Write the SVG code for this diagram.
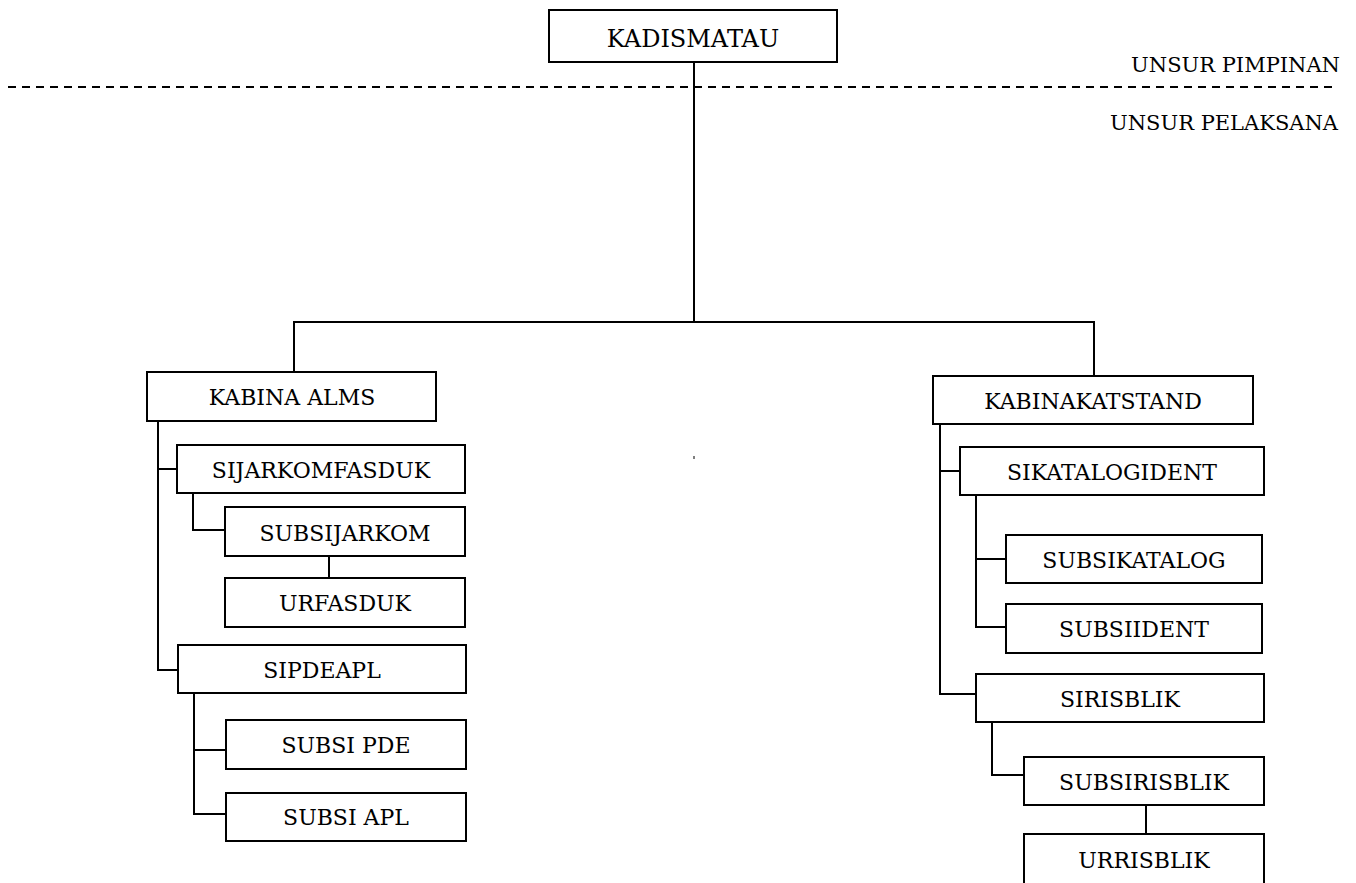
<svg xmlns="http://www.w3.org/2000/svg" width="1356" height="883" viewBox="0 0 1356 883">
<style>
.box{fill:#fff;stroke:#000;stroke-width:2}
.t{font-family:"DejaVu Serif","Liberation Serif",serif;font-size:22px;fill:#000;text-anchor:middle}
.big{font-size:24px}
.lbl{font-family:"DejaVu Serif","Liberation Serif",serif;font-size:21px;fill:#000;text-anchor:end}
.c{fill:none;stroke:#000;stroke-width:2}
.dash{fill:none;stroke:#000;stroke-width:2;stroke-dasharray:8 6}
</style>
<rect width="1356" height="883" fill="#fff"/>
<line class="dash" x1="8" y1="87" x2="1334" y2="87"/>
<text class="lbl" x="1340" y="72">UNSUR PIMPINAN</text>
<text class="lbl" x="1338" y="130">UNSUR PELAKSANA</text>
<g id="connectors">
<path class="c" d="M694 62V322M294 373V322H1094V376"/>
<path class="c" d="M158 421V670H178M158 469H177"/>
<path class="c" d="M193 493V530H225M329 556V578"/>
<path class="c" d="M194 693V814H226M194 750H226"/>
<path class="c" d="M940 424V694H976M940 471H960"/>
<path class="c" d="M976 495V627H1006M976 559H1006"/>
<path class="c" d="M992 722V775H1024M1146 805V834"/>
<rect x="693.5" y="456" width="1" height="3" fill="#000"/>
</g>
<g id="kadismatau"><rect class="box" x="549" y="10" width="288" height="52"/><text class="t big" x="693" y="47">KADISMATAU</text></g>
<g id="kabina-alms"><rect class="box" x="147" y="372" width="289" height="49"/><text class="t" x="292" y="405">KABINA ALMS</text></g>
<g id="sijarkomfasduk"><rect class="box" x="177" y="445" width="288" height="48"/><text class="t" x="321" y="478">SIJARKOMFASDUK</text></g>
<g id="subsijarkom"><rect class="box" x="225" y="507" width="240" height="49"/><text class="t" x="345" y="541">SUBSIJARKOM</text></g>
<g id="urfasduk"><rect class="box" x="225" y="578" width="240" height="49"/><text class="t" x="345" y="611">URFASDUK</text></g>
<g id="sipdeapl"><rect class="box" x="178" y="645" width="288" height="48"/><text class="t" x="322" y="678">SIPDEAPL</text></g>
<g id="subsi-pde"><rect class="box" x="226" y="720" width="240" height="49"/><text class="t" x="346" y="753">SUBSI PDE</text></g>
<g id="subsi-apl"><rect class="box" x="226" y="793" width="240" height="48"/><text class="t" x="346" y="825">SUBSI APL</text></g>
<g id="kabinakatstand"><rect class="box" x="933" y="376" width="320" height="48"/><text class="t" x="1093" y="409">KABINAKATSTAND</text></g>
<g id="sikatalogident"><rect class="box" x="960" y="447" width="304" height="48"/><text class="t" x="1112" y="480">SIKATALOGIDENT</text></g>
<g id="subsikatalog"><rect class="box" x="1006" y="535" width="256" height="48"/><text class="t" x="1134" y="568">SUBSIKATALOG</text></g>
<g id="subsiident"><rect class="box" x="1006" y="604" width="256" height="49"/><text class="t" x="1134" y="637">SUBSIIDENT</text></g>
<g id="sirisblik"><rect class="box" x="976" y="674" width="288" height="48"/><text class="t" x="1120" y="707">SIRISBLIK</text></g>
<g id="subsirisblik"><rect class="box" x="1024" y="757" width="240" height="48"/><text class="t" x="1144" y="790">SUBSIRISBLIK</text></g>
<g id="urrisblik"><rect class="box" x="1024" y="834" width="240" height="54"/><text class="t" x="1144" y="868">URRISBLIK</text></g>
</svg>
